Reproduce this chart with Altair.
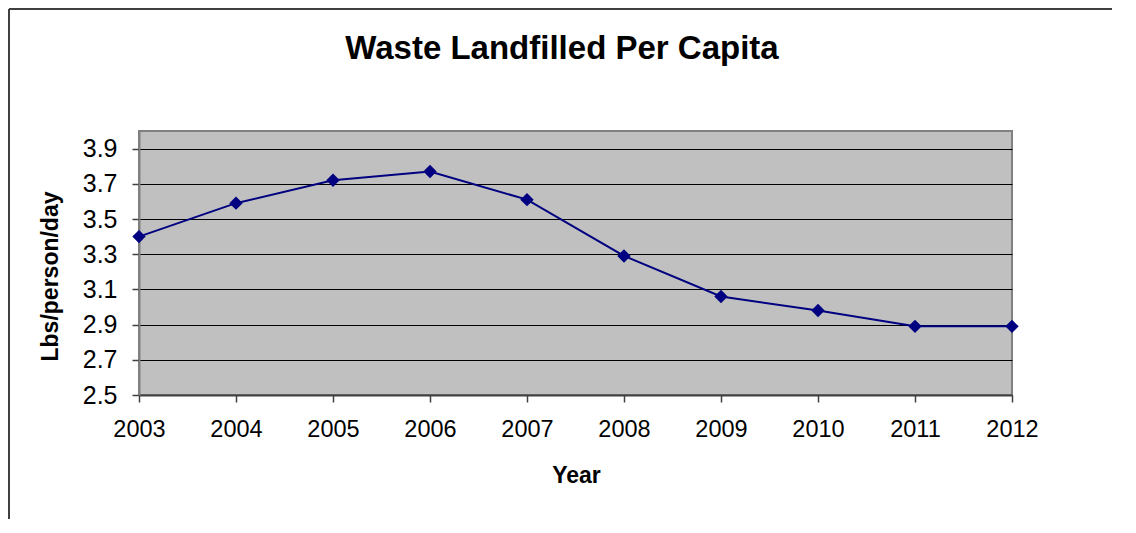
import altair as alt
import pandas as pd

# ---- data ----
years = ["2003", "2004", "2005", "2006", "2007", "2008", "2009", "2010", "2011", "2012"]
values = [3.40, 3.59, 3.72, 3.77, 3.61, 3.29, 3.06, 2.98, 2.89, 2.89]
y_ticks = [2.5, 2.7, 2.9, 3.1, 3.3, 3.5, 3.7, 3.9]

df = pd.DataFrame({"Year": years, "Value": values})

FONT = "Liberation Sans"
NAVY = "#000080"

x_enc = alt.X(
    "Year:O",
    sort=years,
    scale=alt.Scale(padding=0),
    axis=alt.Axis(
        labelAngle=0,
        labelFont=FONT,
        labelFontSize=23.5,
        labelColor="black",
        labelPadding=15,
        domainColor="#404040",
        domainWidth=2,
        tickColor="#404040",
        tickSize=7,
        tickWidth=1.5,
        grid=False,
        title="Year",
        titleFont=FONT,
        titleFontSize=23,
        titleFontWeight="bold",
        titleColor="black",
        titleX=437,
        titleY=87,
        titleBaseline="alphabetic",
    ),
)

y_enc = alt.Y(
    "Value:Q",
    scale=alt.Scale(domain=[2.5, 4.0], nice=False, zero=False),
    axis=alt.Axis(
        values=y_ticks,
        format=".1f",
        labelFont=FONT,
        labelFontSize=25,
        labelColor="black",
        labelPadding=15,
        domainColor="#808080",
        domainWidth=2,
        tickColor="#404040",
        tickSize=7,
        tickWidth=1.5,
        grid=True,
        gridColor="black",
        gridWidth=1,
        title="Lbs/person/day",
        titleFont=FONT,
        titleFontSize=23,
        titleFontWeight="bold",
        titleColor="black",
        titleAngle=270,
        titleAlign="center",
        titleBaseline="alphabetic",
        titleX=-82,
        titleY=145,
    ),
)

base = alt.Chart(df)
line = base.mark_line(color=NAVY, strokeWidth=2).encode(x=x_enc, y=y_enc)
points = base.mark_point(
    shape="diamond", filled=True, size=180, color=NAVY, opacity=1
).encode(x=x_enc, y=y_enc)

# outer chart frame (top and left edges)
frame_df = pd.DataFrame({"k": [0]})
top_rule = alt.Chart(frame_df).mark_rule(color="#404040", strokeWidth=2).encode(
    x=alt.value(-130), x2=alt.value(975), y=alt.value(-122)
)
left_rule = alt.Chart(frame_df).mark_rule(color="#404040", strokeWidth=2).encode(
    x=alt.value(-130), y=alt.value(-122), y2=alt.value(400)
)

chart = (
    alt.layer(top_rule, left_rule, line, points)
    .properties(
        width=873,
        height=264,
        autosize=alt.AutoSizeParams(type="none"),
        padding={"left": 131, "top": 123, "right": 100, "bottom": 124},
        background="white",
        title=alt.TitleParams(
            "Waste Landfilled Per Capita",
            font=FONT,
            fontSize=33,
            fontWeight="bold",
            color="black",
            anchor="middle",
            frame="group",
            dx=-13.5,
            baseline="alphabetic",
            offset=-84,
        ),
    )
    .configure_view(fill="#C0C0C0", stroke="#808080", strokeWidth=2)
)

chart.save("out.html", embed_options={"renderer": "svg", "actions": False})
